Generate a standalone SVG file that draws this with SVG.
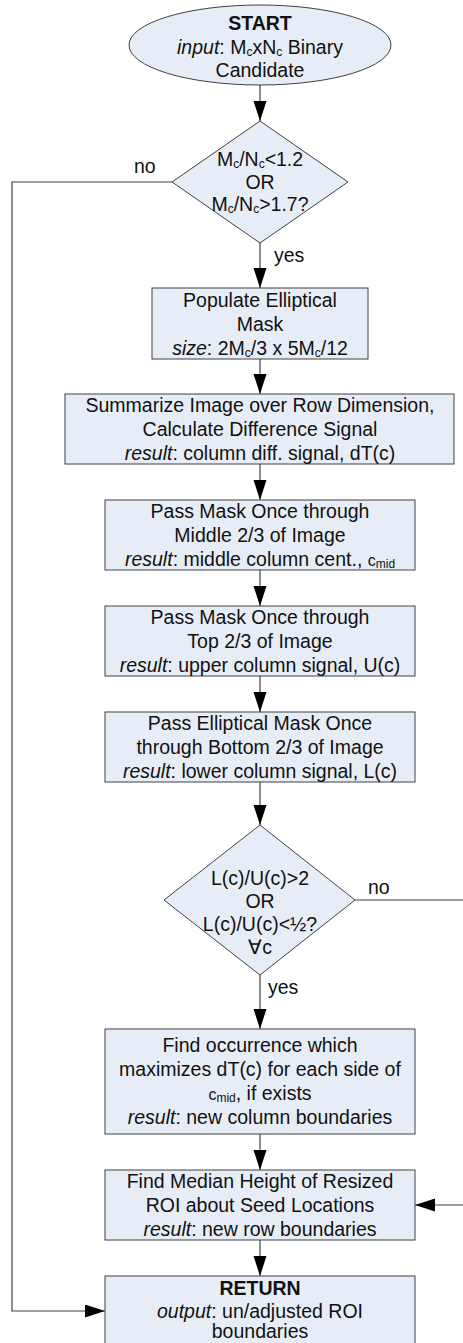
<svg xmlns="http://www.w3.org/2000/svg" width="463" height="1343" viewBox="0 0 463 1343">
<style>
.shape{fill:#E7EDF6;stroke:#404040;stroke-width:1}
.conn{fill:none;stroke:#404040;stroke-width:1.2}
text{font-family:"Liberation Sans",Arial,sans-serif;font-size:19.5px;fill:#111;text-anchor:middle}
.lbl{text-anchor:start}
.it{font-style:italic}
.b{font-weight:bold}
.sub{font-size:12px}
</style>
<defs>
<marker id="ah" markerUnits="userSpaceOnUse" markerWidth="21" markerHeight="14" refX="20" refY="6.5" orient="auto">
<path d="M0,0 L20,6.5 L0,13 z" fill="#000"/>
</marker>
</defs>
<rect width="463" height="1343" fill="#fff"/>
<g id="connectors">
<path class="conn" d="M260,85 V121" marker-end="url(#ah)"/>
<path class="conn" d="M260,243 V288" marker-end="url(#ah)"/>
<path class="conn" d="M260,359 V394" marker-end="url(#ah)"/>
<path class="conn" d="M260,464 V500" marker-end="url(#ah)"/>
<path class="conn" d="M260,570 V606" marker-end="url(#ah)"/>
<path class="conn" d="M260,676 V712" marker-end="url(#ah)"/>
<path class="conn" d="M260,782 V825" marker-end="url(#ah)"/>
<path class="conn" d="M260,975 V1029" marker-end="url(#ah)"/>
<path class="conn" d="M260,1134 V1170" marker-end="url(#ah)"/>
<path class="conn" d="M260,1240 V1276" marker-end="url(#ah)"/>
<path class="conn" d="M172,182 H12 V1311 H105" marker-end="url(#ah)"/>
<path class="conn" d="M355,900 H466 V1205 H415" marker-end="url(#ah)"/>
<text class="lbl" x="134" y="173">no</text>
<text class="lbl" x="274" y="262">yes</text>
<text class="lbl" x="368" y="894">no</text>
<text class="lbl" x="268" y="994">yes</text>
</g>
<g id="start">
<ellipse class="shape" cx="260" cy="45" rx="131" ry="40"/>
<text x="260" y="30" class="b">START</text>
<text x="260" y="54"><tspan class="it">input</tspan>: M<tspan class="sub" dy="2">c</tspan><tspan dy="-2">xN</tspan><tspan class="sub" dy="2">c</tspan><tspan dy="-2"> Binary</tspan></text>
<text x="260" y="77">Candidate</text>
</g>
<g id="decision1">
<polygon class="shape" points="260,121 348,182 260,243 172,182"/>
<text x="260" y="166">M<tspan class="sub" dy="2">c</tspan><tspan dy="-2">/N</tspan><tspan class="sub" dy="2">c</tspan><tspan dy="-2">&lt;1.2</tspan></text>
<text x="260" y="189">OR</text>
<text x="260" y="211">M<tspan class="sub" dy="2">c</tspan><tspan dy="-2">/N</tspan><tspan class="sub" dy="2">c</tspan><tspan dy="-2">&gt;1.7?</tspan></text>
</g>
<g id="box1">
<rect class="shape" x="152" y="288" width="216" height="71"/>
<text x="260" y="307">Populate Elliptical</text>
<text x="260" y="331">Mask</text>
<text x="260" y="355"><tspan class="it">size</tspan>: 2M<tspan class="sub" dy="2">c</tspan><tspan dy="-2">/3 x 5M</tspan><tspan class="sub" dy="2">c</tspan><tspan dy="-2">/12</tspan></text>
</g>
<g id="box2">
<rect class="shape" x="65" y="394" width="389" height="70"/>
<text x="260" y="412">Summarize Image over Row Dimension,</text>
<text x="260" y="436">Calculate Difference Signal</text>
<text x="260" y="460"><tspan class="it">result</tspan>: column diff. signal, dT(c)</text>
</g>
<g id="box3">
<rect class="shape" x="105" y="500" width="310" height="70"/>
<text x="260" y="518">Pass Mask Once through</text>
<text x="260" y="542">Middle 2/3 of Image</text>
<text x="260" y="566"><tspan class="it">result</tspan>: middle column cent., <tspan font-size="16">c</tspan><tspan class="sub" dy="2">mid</tspan></text>
</g>
<g id="box4">
<rect class="shape" x="105" y="606" width="310" height="70"/>
<text x="260" y="624">Pass Mask Once through</text>
<text x="260" y="648">Top 2/3 of Image</text>
<text x="260" y="672"><tspan class="it">result</tspan>: upper column signal, U(c)</text>
</g>
<g id="box5">
<rect class="shape" x="105" y="712" width="310" height="70"/>
<text x="260" y="730">Pass Elliptical Mask Once</text>
<text x="260" y="754">through Bottom 2/3 of Image</text>
<text x="260" y="778"><tspan class="it">result</tspan>: lower column signal, L(c)</text>
</g>
<g id="decision2">
<polygon class="shape" points="260,825 355,900 260,975 164,900"/>
<text x="260" y="885">L(c)/U(c)&gt;2</text>
<text x="260" y="908">OR</text>
<text x="260" y="931">L(c)/U(c)&lt;½?</text>
<text x="260" y="954">∀c</text>
</g>
<g id="box6">
<rect class="shape" x="105" y="1029" width="310" height="105"/>
<text x="260" y="1052">Find occurrence which</text>
<text x="260" y="1076">maximizes dT(c) for each side of</text>
<text x="260" y="1100"><tspan font-size="16">c</tspan><tspan class="sub" dy="2">mid</tspan><tspan dy="-2">, if exists</tspan></text>
<text x="260" y="1124"><tspan class="it">result</tspan>: new column boundaries</text>
</g>
<g id="box7">
<rect class="shape" x="105" y="1170" width="310" height="70"/>
<text x="260" y="1188">Find Median Height of Resized</text>
<text x="260" y="1212">ROI about Seed Locations</text>
<text x="260" y="1236"><tspan class="it">result</tspan>: new row boundaries</text>
</g>
<g id="return">
<rect class="shape" x="105" y="1276" width="310" height="80"/>
<text x="260" y="1295" class="b">RETURN</text>
<text x="260" y="1318"><tspan class="it">output</tspan>: un/adjusted ROI</text>
<text x="260" y="1338">boundaries</text>
</g>
</svg>
